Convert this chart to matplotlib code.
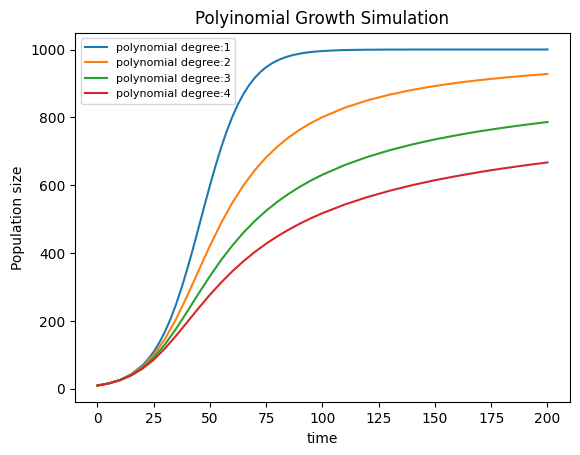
import matplotlib
matplotlib.use("Agg")
import matplotlib.pyplot as plt

# --- values ---
time = [0, 5, 10, 15, 20, 25, 30, 35, 40, 45, 50, 55, 60, 65, 70, 75, 80, 85, 90, 95, 100,
        110, 120, 130, 140, 150, 160, 170, 180, 190, 200]

# degree 1 bends sharply, so it was read at a finer step
time_1 = [0, 5, 10, 15, 20, 22.5, 25, 27.5, 30, 32.5, 35, 37.5, 40, 42.5, 45, 47.5, 50,
          52.5, 55, 57.5, 60, 62.5, 65, 67.5, 70, 72.5, 75, 77.5, 80, 82.5, 85, 87.5,
          90, 92.5, 95, 97.5, 100, 105, 110, 115, 120, 130, 140, 150, 160, 170, 180,
          190, 200]
degree_1 = [10, 16.4, 26.7, 43.3, 69.4, 87.5, 109.6, 136.5, 168.7, 206.7, 250.6, 300.5,
            355.5, 414.6, 476.2, 538.6, 599.9, 658.1, 712.0, 760.4, 802.9, 839.6, 870.5,
            896.1, 917.2, 934.3, 948.1, 959.1, 967.9, 974.8, 980.3, 984.6, 987.9, 990.6,
            992.6, 994.3, 995.5, 997.3, 998.4, 999.0, 999.4, 999.8, 999.9, 1000, 1000,
            1000, 1000, 1000, 1000]
degree_2 = [10, 16.3, 26.3, 41.9, 65.7, 100.1, 147.0, 206.6, 275.8, 349.3, 421.9, 489.3,
            549.1, 600.9, 645.1, 682.5, 714.2, 741.2, 764.1, 783.9, 800.9,
            828.7, 850.3, 867.3, 881.1, 892.5, 902.0, 910.0, 916.8, 922.7, 927.9]
degree_3 = [10, 16.2, 25.9, 40.7, 62.4, 92.4, 131.4, 177.8, 229.1, 281.7, 332.6, 380.1,
            423.0, 461.4, 495.3, 525.2, 551.6, 575.0, 595.9, 614.5, 631.2,
            659.9, 683.6, 703.5, 720.5, 735.2, 747.9, 759.2, 769.2, 778.2, 786.3]
degree_4 = [10, 16.1, 25.5, 39.5, 59.5, 86.2, 119.3, 157.2, 197.7, 238.5, 277.5, 313.8,
            347.0, 376.9, 403.9, 428.1, 449.8, 469.4, 487.1, 503.2, 517.8,
            543.5, 565.3, 584.1, 600.5, 614.9, 627.6, 639.1, 649.4, 658.7, 667.3]

series = [(time_1, degree_1), (time, degree_2), (time, degree_3), (time, degree_4)]
labels = ["polynomial degree:1", "polynomial degree:2",
          "polynomial degree:3", "polynomial degree:4"]

fig = plt.figure(figsize=(5.8, 4.55), dpi=100)
ax = fig.add_axes([0.1293, 0.1158, 0.8534, 0.8123])

for (t, values), label in zip(series, labels):
    ax.plot(t, values, label=label)

ax.set_title("Polyinomial Growth Simulation")
ax.set_xlabel("time")
ax.set_ylabel("Population size")
ax.legend(loc="upper left", fontsize=8)

fig.savefig("out.png", dpi=100)
